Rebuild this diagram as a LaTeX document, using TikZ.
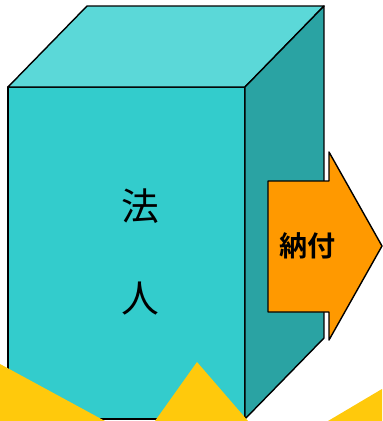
\documentclass[tikz,border=0pt]{standalone}
\usepackage{fontspec}
\usepackage{tikz}
\usepackage{tkz-euclide}
\newfontfamily\jpfont{Noto Sans CJK JP}
\newfontfamily\jpbold{Noto Sans CJK JP Bold}
\definecolor{cubefront}{HTML}{33CCCC}
\definecolor{cubetop}{HTML}{5BD8D8}
\definecolor{cubeside}{HTML}{2AA3A3}
\definecolor{payarrow}{HTML}{FF9900}
\definecolor{sunray}{HTML}{FFC90C}

\begin{document}
\begin{tikzpicture}[line width=0.8pt, line join=round]
    \useasboundingbox (0,0) rectangle (7.64,-8.42);
    % the block
    \tkzDefPoint(0.16,-1.74){A}
    \tkzDefPoint(4.90,-1.74){B}
    \tkzDefPoint(4.90,-8.38){C}
    \tkzDefPoint(0.16,-8.38){D}
    \tkzDefPoint(1.74,-0.12){E}
    \tkzDefPoint(6.48,-0.12){F}
    \tkzDefPoint(6.48,-6.76){G}
    \tkzDrawPolygon[fill=cubefront,line width=0.8pt](A,B,C,D)
    \tkzDrawPolygon[fill=cubetop,line width=0.8pt](A,E,F,B)
    \tkzDrawPolygon[fill=cubeside,line width=0.8pt](B,F,G,C)
    \node[font=\jpfont\fontsize{21.5}{21.5}\selectfont] (ho) at (2.80,-4.12) {法};
    \node[font=\jpfont\fontsize{21.5}{21.5}\selectfont] (jin) at (2.80,-5.97) {人};
    % the arrow
    \tkzDefPoint(5.36,-3.62){P}
    \tkzDefPoint(6.58,-3.62){Q}
    \tkzDefPoint(6.58,-3.04){R}
    \tkzDefPoint(7.64,-4.92){S}
    \tkzDefPoint(6.58,-6.80){T}
    \tkzDefPoint(6.58,-6.24){U}
    \tkzDefPoint(5.36,-6.24){V}
    \tkzDrawPolygon[fill=payarrow,line width=0.8pt](P,Q,R,S,T,U,V)
    \node[font=\jpbold\fontsize{16}{16}\selectfont] (nofu) at (6.15,-4.92) {納付};
    % rays at the bottom
    \tkzDefPoint(0,-7.28){L1}
    \tkzDefPoint(2.10,-8.42){L2}
    \tkzDefPoint(0,-8.42){L3}
    \tkzDefPoint(3.94,-7.24){M1}
    \tkzDefPoint(4.96,-8.42){M2}
    \tkzDefPoint(3.10,-8.42){M3}
    \tkzDefPoint(6.56,-8.42){N1}
    \tkzDefPoint(7.64,-7.78){N2}
    \tkzDefPoint(7.64,-8.42){N3}
    \tkzFillPolygon[color=sunray](L1,L2,L3)
    \tkzFillPolygon[color=sunray](M1,M2,M3)
    \tkzFillPolygon[color=sunray](N1,N2,N3)
\end{tikzpicture}
\end{document}
